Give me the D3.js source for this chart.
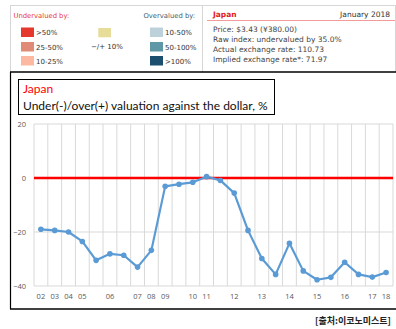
<!DOCTYPE html>
<html>
<head>
<meta charset="utf-8">
<script src="https://cdn.jsdelivr.net/npm/d3@7"></script>
<style>
  body { margin: 0; background: #fff; }
  svg { display: block; }
</style>
</head>
<body>
<svg id="chart" width="396" height="329"></svg>
<script>
// Survey periods (one per Big Mac index release), label shown only where set
const periodLabels = ["02","03","04","05","","06","","07","08","09","","10","11","","12","","13","","14","","15","","16","","17","18"];
// Under(-)/over(+) valuation of the yen against the dollar, %
const valuation = [-19.0,-19.4,-20.0,-23.5,-30.5,-28.1,-28.6,-33.0,-26.8,-3.1,-2.3,-1.6,0.5,-0.9,-5.6,-19.4,-29.8,-35.7,-24.2,-34.4,-37.7,-36.8,-31.2,-35.7,-36.7,-35.0];
const yTicks = [20, 0, -20, -40];

// Legend entries
const underLegend = [
  { label: ">50%", color: "#e5392e" },
  { label: "25-50%", color: "#e08b77" },
  { label: "10-25%", color: "#fcb8a1" }
];
const overLegend = [
  { label: "10-50%", color: "#bdd1db" },
  { label: "50-100%", color: "#5e98a6" },
  { label: ">100%", color: "#1b4f6d" }
];
const neutralLegend = { label: "\u2212/+ 10%", color: "#e7dc98" };

// Country detail panel
const panelCountry = "Japan";
const panelDate = "January 2018";
const panelLines = [
  "Price: $3.43 (\u00a5380.00)",
  "Raw index: undervalued by 35.0%",
  "Actual exchange rate: 110.73",
  "Implied exchange rate*: 71.97"
];

const svg = d3.select("#chart");
const uiFont = "'DejaVu Sans', Verdana, sans-serif";
const chartFont = "Lato, 'Open Sans', sans-serif";

// ---- Legend block ----
const header = svg.append("g");
header.append("line").attr("x1", 10).attr("x2", 396).attr("y1", 5.5).attr("y2", 5.5).attr("stroke", "#d6d6d6");
header.append("line").attr("x1", 10.5).attr("x2", 10.5).attr("y1", 5).attr("y2", 72).attr("stroke", "#d6d6d6");
header.append("line").attr("x1", 202.5).attr("x2", 202.5).attr("y1", 5).attr("y2", 72).attr("stroke", "#d6d6d6");
header.append("line").attr("x1", 395.5).attr("x2", 395.5).attr("y1", 5).attr("y2", 72).attr("stroke", "#d6d6d6");

header.append("text").attr("x", 13.5).attr("y", 17.5).attr("font-family", uiFont).attr("font-size", 6.8)
  .attr("fill", "#e8383d").text("Undervalued by:");
header.append("text").attr("x", 143.5).attr("y", 17.5).attr("font-family", uiFont).attr("font-size", 6.8)
  .attr("fill", "#3b5e70").text("Overvalued by:");

const rowY = [27.5, 42, 56];
function legendColumn(items, x) {
  const g = header.append("g");
  items.forEach((d, i) => {
    g.append("rect").attr("x", x).attr("y", rowY[i]).attr("width", 13).attr("height", 9.5).attr("fill", d.color);
    g.append("text").attr("x", x + 15).attr("y", rowY[i] + 7.5).attr("font-family", uiFont)
      .attr("font-size", 7).attr("fill", "#333").text(d.label);
  });
}
legendColumn(underLegend, 21);
legendColumn(overLegend, 150);
header.append("rect").attr("x", 98.3).attr("y", 28).attr("width", 12.7).attr("height", 9.3).attr("fill", neutralLegend.color);
header.append("text").attr("x", 91).attr("y", 48.5).attr("font-family", uiFont).attr("font-size", 7)
  .attr("fill", "#333").text(neutralLegend.label);

// ---- Country panel ----
header.append("text").attr("x", 213).attr("y", 17).attr("font-family", uiFont).attr("font-size", 7.5)
  .attr("font-weight", "bold").attr("fill", "#e21a1a").text(panelCountry);
header.append("text").attr("x", 390).attr("y", 17).attr("text-anchor", "end").attr("font-family", uiFont)
  .attr("font-size", 7.5).attr("fill", "#333").text(panelDate);
header.append("line").attr("x1", 207).attr("x2", 395).attr("y1", 20.5).attr("y2", 20.5)
  .attr("stroke", "#f39a9a").attr("stroke-width", 1.2);
panelLines.forEach((t, i) => {
  header.append("text").attr("x", 213).attr("y", 31.5 + i * 10.2).attr("font-family", uiFont)
    .attr("font-size", 7.5).attr("fill", "#444").text(t);
});

// ---- Chart frame ----
svg.append("line").attr("x1", 10).attr("x2", 396).attr("y1", 72).attr("y2", 72).attr("stroke", "#000").attr("stroke-width", 1.5);
svg.append("line").attr("x1", 10.5).attr("x2", 10.5).attr("y1", 72).attr("y2", 309).attr("stroke", "#000").attr("stroke-width", 1.2);
svg.append("line").attr("x1", 10).attr("x2", 396).attr("y1", 309).attr("y2", 309).attr("stroke", "#000").attr("stroke-width", 1.5);

// Title box
svg.append("rect").attr("x", 18.5).attr("y", 79.5).attr("width", 256).attr("height", 35)
  .attr("fill", "#fff").attr("stroke", "#000").attr("stroke-width", 1);
svg.append("text").attr("x", 23).attr("y", 93).attr("font-family", chartFont).attr("font-size", 12)
  .attr("fill", "#ff0000").text("Japan");
svg.append("text").attr("x", 23).attr("y", 110).attr("font-family", chartFont).attr("font-size", 12)
  .attr("fill", "#111").text("Under(-)/over(+) valuation against the dollar, %");

// ---- Plot ----
const plot = { left: 34, right: 393, top: 124, bottom: 286 };
const x = d3.scaleBand().domain(d3.range(valuation.length)).range([plot.left, plot.right]);
const y = d3.scaleLinear().domain([-40, 20]).range([plot.bottom, plot.top]);

const grid = svg.append("g");
// Vertical grid at category boundaries
const bounds = d3.range(valuation.length + 1).map(i => plot.left + i * x.step());
grid.selectAll("line.v").data(bounds).join("line").attr("class", "v")
  .attr("x1", d => d).attr("x2", d => d).attr("y1", plot.top).attr("y2", plot.bottom)
  .attr("stroke", "#d9d9d9").attr("stroke-width", 1);
grid.selectAll("line.h").data(yTicks.filter(v => v !== 0)).join("line").attr("class", "h")
  .attr("x1", plot.left).attr("x2", plot.right).attr("y1", d => y(d)).attr("y2", d => y(d))
  .attr("stroke", "#d9d9d9").attr("stroke-width", 1);

// Y axis labels
const yAxis = svg.append("g").attr("transform", `translate(${plot.left - 8},0)`)
  .call(d3.axisLeft(y).tickValues(yTicks).tickSize(0).tickPadding(0));
yAxis.select(".domain").remove();
yAxis.selectAll("text").attr("font-family", "'Open Sans', sans-serif").attr("font-size", 7.5).attr("fill", "#595959");

// X axis labels
const xAxis = svg.append("g").attr("transform", `translate(0,${plot.bottom + 4})`)
  .call(d3.axisBottom(x).tickFormat(i => periodLabels[i]).tickSize(0).tickPadding(4));
xAxis.select(".domain").remove();
xAxis.selectAll("text").attr("font-family", "'Open Sans', sans-serif").attr("font-size", 7.5).attr("fill", "#595959");

// Zero line
svg.append("line").attr("x1", plot.left).attr("x2", plot.right).attr("y1", y(0)).attr("y2", y(0))
  .attr("stroke", "#ff0000").attr("stroke-width", 2.5);

// Valuation series
const line = d3.line().x((d, i) => x(i) + x.bandwidth() / 2).y(d => y(d));
svg.append("path").datum(valuation).attr("d", line).attr("fill", "none")
  .attr("stroke", "#5b9bd5").attr("stroke-width", 2.2).attr("stroke-linejoin", "round");
svg.selectAll("circle.pt").data(valuation).join("circle").attr("class", "pt")
  .attr("cx", (d, i) => x(i) + x.bandwidth() / 2).attr("cy", d => y(d)).attr("r", 2.8)
  .attr("fill", "#5b9bd5");

// Source note
svg.append("text").attr("x", 391).attr("y", 324).attr("text-anchor", "end")
  .attr("font-family", "'Noto Sans CJK KR', sans-serif").attr("font-size", 9).attr("font-weight", "bold")
  .attr("fill", "#222").text("[출처:이코노미스트]");
</script>
</body>
</html>
